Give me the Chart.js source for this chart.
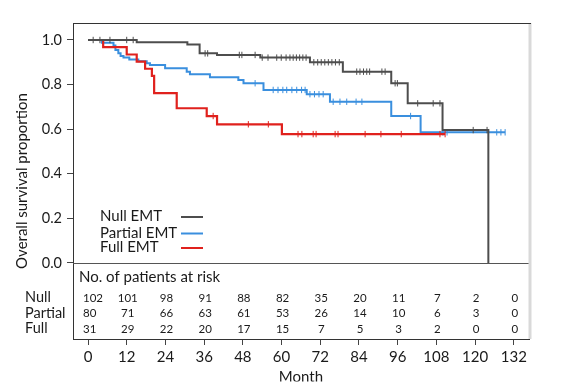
<!DOCTYPE html>
<html><head><meta charset="utf-8">
<script src="https://cdn.jsdelivr.net/npm/chart.js@4"></script>
<style>html,body{margin:0;padding:0;background:#fff;}#wrap{width:561px;height:392px;position:relative;}</style>
</head><body><div id="wrap"><canvas id="c" width="561" height="392"></canvas></div>
<script>
// ---- data ----
const monthTicks = [0, 12, 24, 36, 48, 60, 72, 84, 96, 108, 120, 132];
const yTicks = [0, 0.2, 0.4, 0.6, 0.8, 1.0];
const groupNames = ['Null EMT', 'Partial EMT', 'Full EMT'];
const rowLabels = ['Null', 'Partial', 'Full'];

const nullTimes = [0, 15.1, 30.8, 34.6, 40.0, 53.4, 68.8, 79.0, 94.0, 99.1, 109.9, 124.1];
const nullSurv  = [1, 0.990, 0.980, 0.940, 0.933, 0.921, 0.900, 0.858, 0.806, 0.716, 0.596, 0];
const nullCensor = [1.6, 3.7, 6.8, 12.0, 14.0, 36.3, 37.1, 46.9, 47.7, 51.8, 54.0, 55.8, 58.5, 59.9, 61.4, 62.6, 63.6, 64.6, 65.6, 66.6, 67.6,
  70.0, 71.2, 72.3, 73.4, 74.5, 75.6, 76.7, 77.9, 83.3, 84.3, 85.4, 86.4, 87.3, 91.1, 92.1, 95.2, 95.9, 102.2, 107.0, 109.1, 119.4, 123.7];

const partialTimes = [0, 4.3, 7.9, 8.5, 9.4, 10.1, 11.0, 12.8, 15.6, 18.2, 19.2, 23.9, 30.6, 31.6, 37.8, 46.6, 48.2, 54.4, 67.8, 75.0, 94.0, 103.1, 129.3];
const partialSurv  = [1, 0.9875, 0.975, 0.955, 0.940, 0.928, 0.922, 0.913, 0.905, 0.896, 0.888, 0.873, 0.858, 0.846, 0.833, 0.821, 0.806, 0.776, 0.757, 0.723, 0.659, 0.586, 0.586];
const partialCensor = [51.8, 57.4, 58.9, 60.4, 61.6, 63.2, 64.7, 66.2, 67.3, 68.8, 70.2, 71.6, 72.9, 76.0, 78.1, 80.2, 83.1, 84.9,
  100.0, 110.0, 111.3, 126.7, 128.0, 129.3];

const fullTimes = [0, 4.7, 12.0, 15.1, 17.7, 19.8, 20.5, 27.5, 36.8, 40.0, 60.1, 110.7];
const fullSurv  = [1, 0.968, 0.935, 0.903, 0.871, 0.839, 0.762, 0.694, 0.659, 0.622, 0.578, 0.578];
const fullCensor = [38.8, 49.7, 55.9, 65.1, 66.3, 69.8, 70.7, 76.6, 77.5, 85.9, 90.8, 97.1, 109.1, 110.7];

const riskNull    = [102, 101, 98, 91, 88, 82, 35, 20, 11, 7, 2, 0];
const riskPartial = [80, 71, 66, 63, 61, 53, 26, 14, 10, 6, 3, 0];
const riskFull    = [31, 29, 22, 20, 17, 15, 7, 5, 3, 2, 0, 0];

// ---- styles ----
const colNull = '#4d4d4d', colPartial = '#3a8fde', colFull = '#e0211d';
const txt = '#1a1a1a';
const FONT = 'Lato, "Open Sans", sans-serif';

function survAt(times, surv, t) {
  let v = surv[0];
  for (let i = 0; i < times.length; i++) { if (times[i] <= t) v = surv[i]; }
  return v;
}
function stepPts(times, surv) { return times.map((t, i) => ({x: t, y: surv[i]})); }
function censPts(times, surv, cens) { return cens.map(t => ({x: t, y: survAt(times, surv, t)})); }

function lineDs(times, surv, color, w) {
  return {type: 'line', data: stepPts(times, surv), borderColor: color, borderWidth: w, stepped: true,
    pointRadius: 0, fill: false, tension: 0};
}
function censDs(times, surv, cens, color) {
  return {type: 'scatter', data: censPts(times, surv, cens), showLine: false, pointStyle: 'line',
    pointRotation: 90, pointRadius: 3.2, pointBorderWidth: 1, borderColor: color, backgroundColor: color, pointBorderColor: color};
}

const framePlugin = {
  id: 'frame',
  beforeDatasetsDraw(chart) {
    const {ctx, chartArea: a, scales: {y}} = chart;
    ctx.save();
    const y0 = Math.round(y.getPixelForValue(0)) + 0.5;
    ctx.strokeStyle = '#555'; ctx.lineWidth = 1;
    ctx.beginPath(); ctx.moveTo(a.left, y0); ctx.lineTo(a.right + 1, y0); ctx.stroke();
    ctx.restore();
  },
  afterDraw(chart) {
    const {ctx, chartArea: a, scales: {x, y}} = chart;
    ctx.save();
    // right light band
    ctx.fillStyle = '#d9d9d9';
    ctx.fillRect(a.right - 0.5, a.top, 3, a.bottom - a.top);
    // top line
    ctx.strokeStyle = '#333'; ctx.lineWidth = 1;
    ctx.beginPath(); ctx.moveTo(a.left, Math.round(a.top) + 0.5); ctx.lineTo(a.right + 2, Math.round(a.top) + 0.5); ctx.stroke();

    ctx.fillStyle = txt;
    // y title
    ctx.save();
    ctx.translate(22, (a.top + a.bottom) / 2);
    ctx.rotate(-Math.PI / 2);
    ctx.font = '15px ' + FONT; ctx.textAlign = 'center'; ctx.textBaseline = 'middle';
    ctx.fillText('Overall survival proportion', 0, 0);
    ctx.restore();

    // legend
    const legY = [216.5, 233, 247.5];
    const legCol = [colNull, colPartial, colFull];
    ctx.font = '15px ' + FONT; ctx.textAlign = 'left'; ctx.textBaseline = 'middle';
    groupNames.forEach((n, i) => {
      ctx.fillStyle = txt; ctx.fillText(n, 100, legY[i]);
      ctx.strokeStyle = legCol[i]; ctx.lineWidth = 2;
      ctx.beginPath(); ctx.moveTo(181, legY[i] + 0.5); ctx.lineTo(203, legY[i] + 0.5); ctx.stroke();
    });

    // risk table
    ctx.fillStyle = txt;
    ctx.font = '15px ' + FONT; ctx.textAlign = 'left'; ctx.textBaseline = 'middle';
    ctx.fillText('No. of patients at risk', 79, 277);
    const rowY = [297.5, 313, 328.5];
    ctx.font = '14.5px ' + FONT;
    rowLabels.forEach((r, i) => ctx.fillText(r, 25, rowY[i]));
    const rows = [riskNull, riskPartial, riskFull];
    const numY = [298.5, 313.5, 329.5];
    ctx.font = '11.5px ' + FONT;
    rows.forEach((row, ri) => {
      row.forEach((v, ci) => {
        const px = x.getPixelForValue(monthTicks[ci]);
        if (ci === 0) { ctx.textAlign = 'left'; ctx.fillText(String(v), px - 5, numY[ri]); }
        else { ctx.textAlign = 'center'; ctx.fillText(String(v), px + 1, numY[ri]); }
      });
    });

    // x title (clipped at bottom like the reference)
    ctx.font = '15px ' + FONT; ctx.textAlign = 'center'; ctx.textBaseline = 'alphabetic';
    const cx = (x.getPixelForValue(0) + x.getPixelForValue(132)) / 2;
    ctx.fillText('Month', cx, 381.5);
    ctx.fillStyle = '#fff';
    ctx.fillRect(0, 381.5, chart.width, chart.height - 381.5);
    ctx.restore();
  }
};

new Chart(document.getElementById('c'), {
  data: {
    datasets: [
      lineDs(nullTimes, nullSurv, colNull, 2),
      censDs(nullTimes, nullSurv, nullCensor, colNull),
      lineDs(fullTimes, fullSurv, colFull, 2.2),
      censDs(fullTimes, fullSurv, fullCensor, colFull),
      lineDs(partialTimes, partialSurv, colPartial, 2),
      censDs(partialTimes, partialSurv, partialCensor, colPartial)
    ]
  },
  options: {
    responsive: false, animation: false, devicePixelRatio: 1,
    layout: {padding: {top: 23, right: 32, bottom: 0, left: 0}},
    plugins: {legend: {display: false}, tooltip: {enabled: false}},
    scales: {
      x: {
        type: 'linear', min: -4.65, max: 136.7,
        afterBuildTicks: s => { s.ticks = monthTicks.map(v => ({value: v})); },
        afterFit: s => { s.height = 53; },
        ticks: {autoSkip: false, maxRotation: 0, padding: 3, color: txt, font: {family: FONT, size: 15},
          callback: v => String(v)},
        grid: {display: true, drawOnChartArea: false, drawTicks: true, tickLength: 6, color: '#444'},
        border: {display: true, color: '#333', width: 1}
      },
      y: {
        type: 'linear', min: -0.3408, max: 1.0762,
        afterBuildTicks: s => { s.ticks = yTicks.map(v => ({value: v})); },
        afterFit: s => { s.width = 73; },
        ticks: {padding: 5, color: txt, font: {family: FONT, size: 14.5}, callback: v => Number(v).toFixed(1)},
        grid: {display: true, drawOnChartArea: false, drawTicks: true, tickLength: 6, color: '#444'},
        border: {display: true, color: '#333', width: 1}
      }
    }
  },
  plugins: [framePlugin]
});
</script>
</body></html>
